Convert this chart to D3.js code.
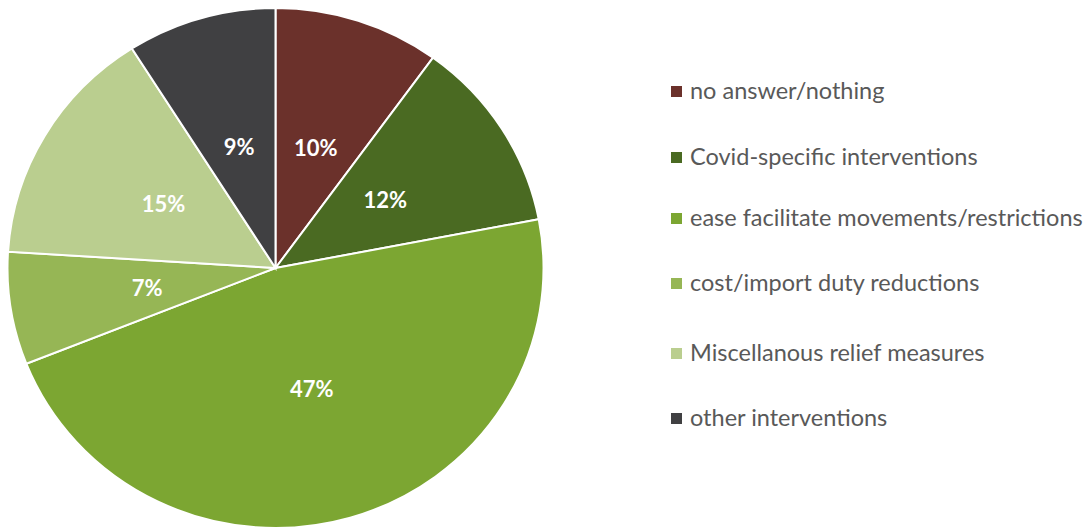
<!DOCTYPE html>
<html>
<head>
<meta charset="utf-8">
<script src="https://cdn.jsdelivr.net/npm/d3@7"></script>
<style>
  html, body { margin: 0; padding: 0; background: #fff; }
  svg { display: block; }
</style>
</head>
<body>
<div id="chart"></div>
<script>
// data
const categories = [
  'no answer/nothing',
  'Covid-specific interventions',
  'ease facilitate movements/restrictions',
  'cost/import duty reductions',
  'Miscellanous relief measures',
  'other interventions'
];
const shares = [10, 12, 47, 7, 15, 9];
const colors = ['#6b312b', '#4a6a22', '#7ca632', '#96b655', '#bace8f', '#404042'];

const width = 1087, height = 529;
const cx = 275.5, cy = 268;
const rx = 268, ry = 260; // reference pie is a touch squashed vertically
const legendY = [91, 157, 218, 283, 353, 418];

const svg = d3.select('#chart').append('svg')
  .attr('width', width)
  .attr('height', height);

const slices = d3.pie().sort(null).value(d => d)(shares);

const arc = d3.arc()
  .innerRadius(0)
  .outerRadius(rx);

const pieG = svg.append('g')
  .attr('transform', `translate(${cx},${cy}) scale(1,${ry / rx})`);

pieG.selectAll('path')
  .data(slices)
  .join('path')
  .attr('d', arc)
  .attr('fill', (d, i) => colors[i])
  .attr('stroke', '#fff')
  .attr('stroke-width', 2)
  .attr('vector-effect', 'non-scaling-stroke');

// percentage labels, placed near the middle of each slice radius
const labelArc = d3.arc().innerRadius(rx * 0.485).outerRadius(rx * 0.485);
svg.append('g')
  .selectAll('text')
  .data(slices)
  .join('text')
  .attr('x', d => cx + labelArc.centroid(d)[0])
  .attr('y', d => cy + labelArc.centroid(d)[1] * ry / rx)
  .attr('dy', '0.36em')
  .attr('text-anchor', 'middle')
  .attr('fill', '#fff')
  .style('font-family', 'Lato, "Open Sans", sans-serif')
  .style('font-weight', 'bold')
  .style('font-size', '22px')
  .text(d => d.data + '%');

// legend
const legend = svg.append('g')
  .selectAll('g')
  .data(categories)
  .join('g')
  .attr('transform', (d, i) => `translate(671,${legendY[i]})`);

legend.append('rect')
  .attr('x', 0)
  .attr('y', -5)
  .attr('width', 11)
  .attr('height', 11)
  .attr('fill', (d, i) => colors[i]);

legend.append('text')
  .attr('x', 19)
  .attr('y', 0)
  .attr('dy', '0.35em')
  .attr('fill', '#595959')
  .style('font-family', 'Lato, "Open Sans", sans-serif')
  .style('font-size', '23.5px')
  .text(d => d);
</script>
</body>
</html>
